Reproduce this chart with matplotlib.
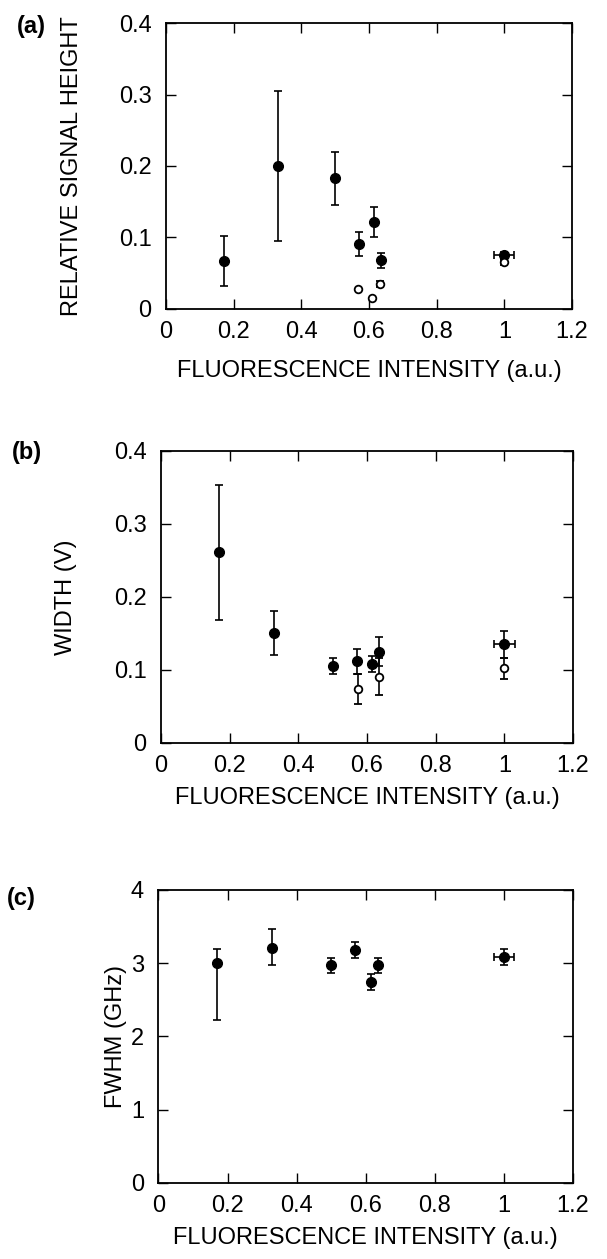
import numpy as np
import matplotlib
matplotlib.use('Agg')
import matplotlib.pyplot as plt

plt.rcParams['font.family'] = ['Liberation Sans', 'DejaVu Sans']

# Fluorescence intensity (a.u.) for each sample
x_fluor = [0.17, 0.33, 0.50, 0.57, 0.615, 0.635, 1.0]
x_err = [0, 0, 0, 0, 0, 0, 0.03]

# (a) relative signal height
a_filled = [0.067, 0.200, 0.183, 0.091, 0.122, 0.068, 0.075]
a_filled_err = [0.035, 0.105, 0.037, 0.017, 0.021, 0.010, 0.005]
a_open_x = [0.567, 0.61, 0.632, 1.0]
a_open = [0.028, 0.016, 0.035, 0.065]
a_open_err = [0, 0, 0.004, 0.004]

# (b) width (V)
b_filled = [0.261, 0.151, 0.105, 0.112, 0.108, 0.125, 0.135]
b_filled_err = [0.092, 0.030, 0.011, 0.017, 0.011, 0.020, 0.019]
b_open_x = [0.573, 0.636, 1.0]
b_open = [0.074, 0.091, 0.102]
b_open_err = [0.020, 0.026, 0.015]

# (c) FWHM (GHz)
c_filled = [3.0, 3.21, 2.97, 3.18, 2.74, 2.97, 3.08]
c_err_lo = [0.77, 0.24, 0.10, 0.11, 0.11, 0.10, 0.11]
c_err_hi = [0.20, 0.26, 0.10, 0.11, 0.11, 0.10, 0.11]

xticks = [0, 0.2, 0.4, 0.6, 0.8, 1.0, 1.2]
xtick_labels = ['0', '0.2', '0.4', '0.6', '0.8', '1', '1.2']

fig = plt.figure(figsize=(6.07, 12.59), dpi=100)

axes_pos = [
    [0.2735, 0.7546, 0.6688, 0.2271],
    [0.2652, 0.4099, 0.6788, 0.2319],
    [0.2611, 0.0604, 0.6829, 0.2327],
]
panel_tags = ['(a)', '(b)', '(c)']
tag_xy = [(0.028, 0.9786), (0.020, 0.6402), (0.012, 0.2867)]
ylabels = ['RELATIVE SIGNAL HEIGHT', 'WIDTH (V)', 'FWHM (GHz)']
ylabel_x = [-0.204, -0.204, -0.075]
xlabel_y = [-0.178, -0.150, -0.150]

fs = 17
axs = []
for i, pos in enumerate(axes_pos):
    ax = fig.add_axes(pos)
    ax.set_xlim(0, 1.2)
    ax.set_xticks(xticks)
    ax.set_xticklabels(xtick_labels)
    ax.tick_params(direction='in', length=7, width=1, top=True, right=True,
                   labelsize=fs)
    ax.tick_params(axis='x', pad=9)
    ax.tick_params(axis='y', pad=10.5)
    for s in ax.spines.values():
        s.set_linewidth(1.3)
    ax.set_xlabel('FLUORESCENCE INTENSITY (a.u.)', fontsize=fs, va='top')
    ax.xaxis.set_label_coords(0.5, xlabel_y[i])
    ax.set_ylabel(ylabels[i], fontsize=fs)
    ax.yaxis.set_label_coords(ylabel_x[i], 0.5)
    fig.text(tag_xy[i][0], tag_xy[i][1], panel_tags[i], fontsize=fs,
             fontweight='bold', ha='left', va='center')
    axs.append(ax)

eb = dict(fmt='o', color='black', ecolor='black', elinewidth=1.2, capsize=3,
          capthick=1.2)

# panel (a)
ax = axs[0]
ax.set_ylim(0, 0.4)
ax.set_yticks([0, 0.1, 0.2, 0.3, 0.4])
ax.set_yticklabels(['0', '0.1', '0.2', '0.3', '0.4'])
ax.errorbar(x_fluor, a_filled, yerr=a_filled_err, xerr=x_err, markersize=7, **eb)
ax.errorbar(a_open_x, a_open, yerr=a_open_err, markersize=5.5, mfc='white',
            mew=1.3, **eb)

# panel (b)
ax = axs[1]
ax.set_ylim(0, 0.4)
ax.set_yticks([0, 0.1, 0.2, 0.3, 0.4])
ax.set_yticklabels(['0', '0.1', '0.2', '0.3', '0.4'])
ax.errorbar(x_fluor, b_filled, yerr=b_filled_err, xerr=x_err, markersize=7, **eb)
ax.errorbar(b_open_x, b_open, yerr=b_open_err, markersize=5.5, mfc='white',
            mew=1.3, **eb)

# panel (c)
ax = axs[2]
ax.set_ylim(0, 4)
ax.set_yticks([0, 1, 2, 3, 4])
ax.set_yticklabels(['0', '1', '2', '3', '4'])
ax.errorbar(x_fluor, c_filled, yerr=[c_err_lo, c_err_hi], xerr=x_err,
            markersize=7, **eb)

fig.savefig('out.png', dpi=100)
